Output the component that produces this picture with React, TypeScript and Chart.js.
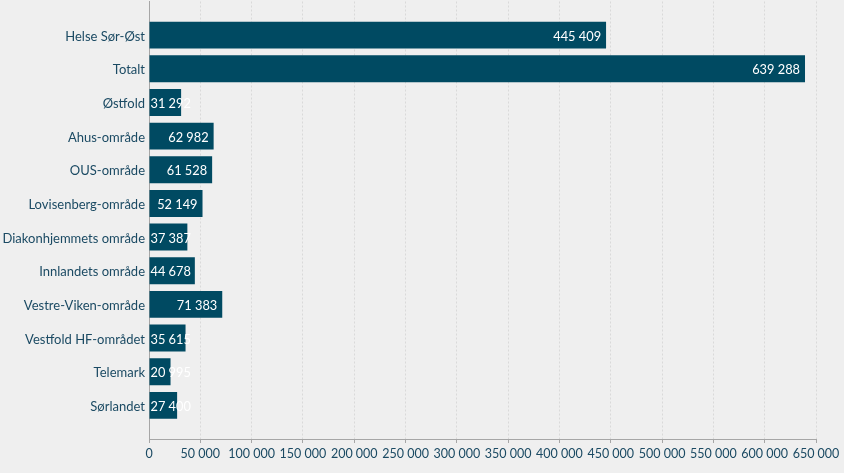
import React, { useEffect, useRef } from "react";
import { Chart, registerables } from "chart.js";

Chart.register(...registerables);

const categories = [
  "Helse Sør-Øst",
  "Totalt",
  "Østfold",
  "Ahus-område",
  "OUS-område",
  "Lovisenberg-område",
  "Diakonhjemmets område",
  "Innlandets område",
  "Vestre-Viken-område",
  "Vestfold HF-området",
  "Telemark",
  "Sørlandet",
];

const values = [445409, 639288, 31292, 62982, 61528, 52149, 37387, 44678, 71383, 35615, 20995, 27400];

const xMax = 650000;
const xStep = 50000;

const FONT = "Lato, 'Noto Sans', sans-serif";
const TEXT = "#1b4a63";
const BAR = "#004a62";

function fmt(v: number): string {
  return Math.round(v)
    .toString()
    .replace(/\B(?=(\d{3})+(?!\d))/g, " ");
}

// padded with an empty slot at each end so the axis extends half a band beyond the bars
const paddedLabels = ["", ...categories, ""];
const paddedValues: (number | null)[] = [null, ...values, null];

const labelPlugin = {
  id: "barLabels",
  afterDatasetsDraw(chart: any) {
    const ctx = chart.ctx;
    const meta = chart.getDatasetMeta(0);
    ctx.save();
    ctx.font = `12.8px ${FONT}`;
    ctx.fillStyle = "#ffffff";
    ctx.textBaseline = "middle";
    meta.data.forEach((bar: any, i: number) => {
      const v = paddedValues[i];
      if (v == null) return;
      const txt = fmt(v);
      const w = ctx.measureText(txt).width;
      const base = bar.base;
      const end = bar.x;
      const pad = 5;
      if (w + pad * 2 <= end - base) {
        ctx.textAlign = "right";
        ctx.fillText(txt, end - pad, bar.y + 1.5);
      } else {
        ctx.textAlign = "left";
        ctx.fillText(txt, base + 1, bar.y + 1.5);
      }
    });
    ctx.restore();
  },
};

export default function App() {
  const ref = useRef<HTMLCanvasElement>(null);
  useEffect(() => {
    document.body.style.margin = "0";
    document.body.style.background = "#efefef";
    const chart = new Chart(ref.current!, {
      type: "bar",
      data: {
        labels: paddedLabels,
        datasets: [
          {
            data: paddedValues,
            backgroundColor: BAR,
            borderWidth: 0,
            categoryPercentage: 1,
            barPercentage: 0.8,
          },
        ],
      },
      options: {
        indexAxis: "y",
        animation: false,
        responsive: false,
        maintainAspectRatio: false,
        layout: { padding: { left: 0, right: 28, top: 1.5, bottom: 0 } },
        plugins: { legend: { display: false }, tooltip: { enabled: false } },
        scales: {
          x: {
            min: 0,
            max: xMax,
            afterBuildTicks(axis: any) {
              const t = [];
              for (let v = 0; v <= xMax; v += xStep) t.push({ value: v });
              axis.ticks = t;
            },
            afterFit(axis: any) {
              axis.height = 34;
            },
            grid: {
              color: "#d9d9d9",
              tickLength: 4,
              tickColor: "#a6a6a6",
              tickBorderDash: [],
            } as any,
            border: { display: true, color: "#a6a6a6", width: 1, dash: [2, 2] },
            ticks: {
              color: TEXT,
              font: { family: FONT, size: 12.5 },
              padding: 3,
              maxRotation: 0,
              autoSkip: false,
              callback: (v: any) => fmt(Number(v)),
            },
          },
          y: {
            offset: false,
            afterFit(axis: any) {
              axis.width = 149;
              axis.paddingTop = 0;
              axis.paddingBottom = 0;
            },
            grid: { display: false, drawTicks: false, offset: false },
            border: { display: true, color: "#a6a6a6", width: 1 },
            ticks: {
              color: TEXT,
              font: { family: FONT, size: 13 },
              padding: 4,
              labelOffset: 1.5,
              autoSkip: false,
            },
          },
        },
      },
      plugins: [labelPlugin],
    });
    return () => chart.destroy();
  }, []);
  return (
    <div style={{ width: 844, height: 473, background: "#efefef" }}>
      <canvas ref={ref} width={844} height={473} style={{ display: "block" }} />
    </div>
  );
}
